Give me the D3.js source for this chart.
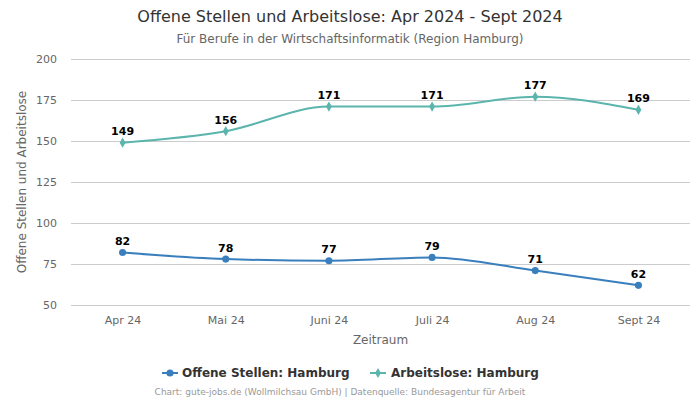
<!DOCTYPE html>
<html><head><meta charset="utf-8">
<script src="https://cdn.jsdelivr.net/npm/d3@7"></script>
<style>body{margin:0;background:#fff;font-family:"DejaVu Sans",sans-serif;}</style>
</head><body><svg id="c" width="700" height="400"></svg>
<script>
const categories = ["Apr 24","Mai 24","Juni 24","Juli 24","Aug 24","Sept 24"];
const offeneStellen = [82,78,77,79,71,62];
const arbeitslose = [149,156,171,171,177,169];
const yTicks = [50,75,100,125,150,175,200];
const seriesNames = ["Offene Stellen: Hamburg","Arbeitslose: Hamburg"];
const colors = ["#3a7fbd","#5bb5ad"];

const svg = d3.select("#c");
const L=71,R=690,T=59,B=305;
const x = d3.scalePoint().domain(categories).range([L,R]).padding(0.5);
const y = d3.scaleLinear().domain([50,200]).range([B,T]);

svg.append("text").attr("x",350).attr("y",22).attr("text-anchor","middle").attr("font-size",16).attr("fill","#333").text("Offene Stellen und Arbeitslose: Apr 2024 - Sept 2024");
svg.append("text").attr("x",350).attr("y",43).attr("text-anchor","middle").attr("font-size",12).attr("fill","#666").text("Für Berufe in der Wirtschaftsinformatik (Region Hamburg)");

const ya = svg.append("g").attr("transform",`translate(${L},0)`).call(d3.axisLeft(y).tickValues(yTicks).tickSize(-(R-L)).tickPadding(14));
ya.select(".domain").remove();
ya.selectAll("line").attr("stroke","#ccc");
ya.selectAll("text").attr("font-size",11).attr("fill","#666").attr("font-family","DejaVu Sans");

const xa = svg.append("g").attr("transform",`translate(0,${B})`).call(d3.axisBottom(x).tickSize(0).tickPadding(11));
xa.select(".domain").remove();
xa.selectAll("text").attr("font-size",11).attr("fill","#666").attr("font-family","DejaVu Sans");

svg.append("text").attr("x",(L+R)/2).attr("y",344).attr("text-anchor","middle").attr("font-size",12).attr("fill","#666").text("Zeitraum");
svg.append("text").attr("transform",`translate(26,${(T+B)/2}) rotate(-90)`).attr("text-anchor","middle").attr("font-size",12).attr("fill","#666").text("Offene Stellen und Arbeitslose");

const line = d3.line().x((d,i)=>x(categories[i])).y(d=>y(d)).curve(d3.curveMonotoneX);
[offeneStellen,arbeitslose].forEach((s,k)=>{
  svg.append("path").attr("d",line(s)).attr("fill","none").attr("stroke",colors[k]).attr("stroke-width",2);
  const sym = d3.symbol().type(k===0?d3.symbolCircle:d3.symbolDiamond).size(k===0?40:30);
  svg.selectAll(null).data(s).enter().append("path").attr("d",sym)
    .attr("transform",(d,i)=>`translate(${x(categories[i])},${y(d)})`).attr("fill",colors[k]);
  svg.selectAll(null).data(s).enter().append("text")
    .attr("x",(d,i)=>x(categories[i])).attr("y",d=>y(d)-7.5).attr("text-anchor","middle")
    .attr("font-size",11).attr("font-weight","bold").attr("fill","#000").text(d=>d);
});

// legend
const lg = svg.append("g");
const items=[{x:162,tx:182},{x:370,tx:391}];
items.forEach((it,k)=>{
  lg.append("line").attr("x1",it.x).attr("x2",it.x+16).attr("y1",373).attr("y2",373).attr("stroke",colors[k]).attr("stroke-width",2);
  lg.append("path").attr("d",d3.symbol().type(k===0?d3.symbolCircle:d3.symbolDiamond).size(k===0?40:30)).attr("transform",`translate(${it.x+8},373)`).attr("fill",colors[k]);
  lg.append("text").attr("x",it.tx).attr("y",377).attr("font-size",12).attr("font-weight","bold").attr("fill","#333").text(seriesNames[k]);
});
svg.append("text").attr("x",340).attr("y",395).attr("text-anchor","middle").attr("font-size",9).attr("fill","#999").text("Chart: gute-jobs.de (Wollmilchsau GmbH) | Datenquelle: Bundesagentur für Arbeit");
</script></body></html>
